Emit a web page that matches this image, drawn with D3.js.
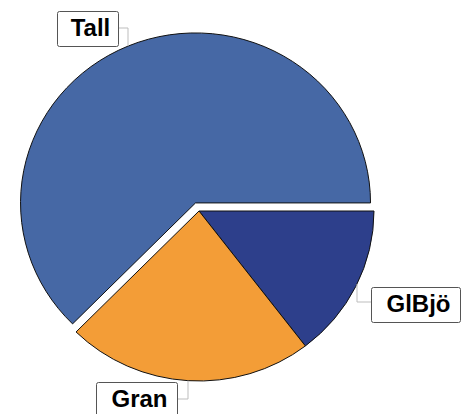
<!DOCTYPE html>
<html><head><meta charset="utf-8">
<script src="https://cdn.jsdelivr.net/npm/d3@7/dist/d3.min.js"></script>
<style>body{margin:0;background:#fff}svg{display:block}</style>
</head><body>
<svg id="chart" width="468" height="414"></svg>
<script>
const categories = ["GlBjö", "Gran", "Tall"];
const values = [14.6, 22.8, 62.6];
const colors = ["#2D3F8B", "#F39D37", "#4668A5"];
const exploded = ["Tall"];

const W = 468, H = 414;
const cx = 199, cy = 211, rx = 175, ry = 170, explode = 9;
const sy = ry / rx;

const svg = d3.select("#chart");
const pie = d3.pie().sort(null).value(d => d.v)
  .startAngle(Math.PI / 2).endAngle(Math.PI / 2 + 2 * Math.PI);
const data = pie(categories.map((c, i) => ({c, v: values[i], col: colors[i]})));
const arc = d3.arc().innerRadius(0).outerRadius(rx);

function offset(d) {
  if (!exploded.includes(d.data.c)) return [0, 0];
  const a = (d.startAngle + d.endAngle) / 2;
  return [Math.sin(a) * explode, -Math.cos(a) * explode * sy];
}

const g = svg.append("g");
data.forEach(d => {
  const [ox, oy] = offset(d);
  g.append("g")
    .attr("transform", `translate(${cx + ox},${cy + oy}) scale(1,${sy})`)
    .append("path")
    .attr("d", arc(d))
    .attr("fill", d.data.col)
    .attr("stroke", "#111")
    .attr("stroke-width", 1)
    .attr("vector-effect", "non-scaling-stroke");
});

function edgeY(d, x, top) {
  const [ox, oy] = offset(d);
  const dx = x - (cx + ox);
  const dy = Math.sqrt(Math.max(0, rx * rx - dx * dx)) * sy;
  return top ? cy + oy - dy : cy + oy + dy;
}

const labels = [
  {c: "Tall", box: [57, 11, 61, 35], anchorX: 128, side: "right", lineY: 28, top: true},
  {c: "GlBjö", box: [371, 287, 89, 35], anchorX: 357, side: "left", lineY: 302, top: false},
  {c: "Gran", box: [96, 382, 81, 36], anchorX: 188, side: "right", lineY: 399, top: false}
];

labels.forEach(L => {
  const d = data.find(p => p.data.c === L.c);
  const [bx, by, bw, bh] = L.box;
  const sx = L.side === "right" ? bx + bw : bx;
  const ey = edgeY(d, L.anchorX, L.top);
  svg.append("path")
    .attr("d", `M${sx},${L.lineY}H${L.anchorX}V${ey}`)
    .attr("fill", "none").attr("stroke", "#bdbdbd").attr("stroke-width", 1);
  svg.append("rect")
    .attr("x", bx + 0.5).attr("y", by + 0.5).attr("width", bw).attr("height", bh)
    .attr("rx", 2).attr("fill", "#fff").attr("stroke", "#555").attr("stroke-width", 1);
  svg.append("text")
    .attr("x", bx + bw / 2 + 3).attr("y", by + bh / 2 + 7)
    .attr("text-anchor", "middle")
    .attr("font-family", "Liberation Sans, Arial, sans-serif")
    .attr("font-weight", "bold").attr("font-size", 24)
    .attr("fill", "#000")
    .text(L.c);
});
</script>
</body></html>
